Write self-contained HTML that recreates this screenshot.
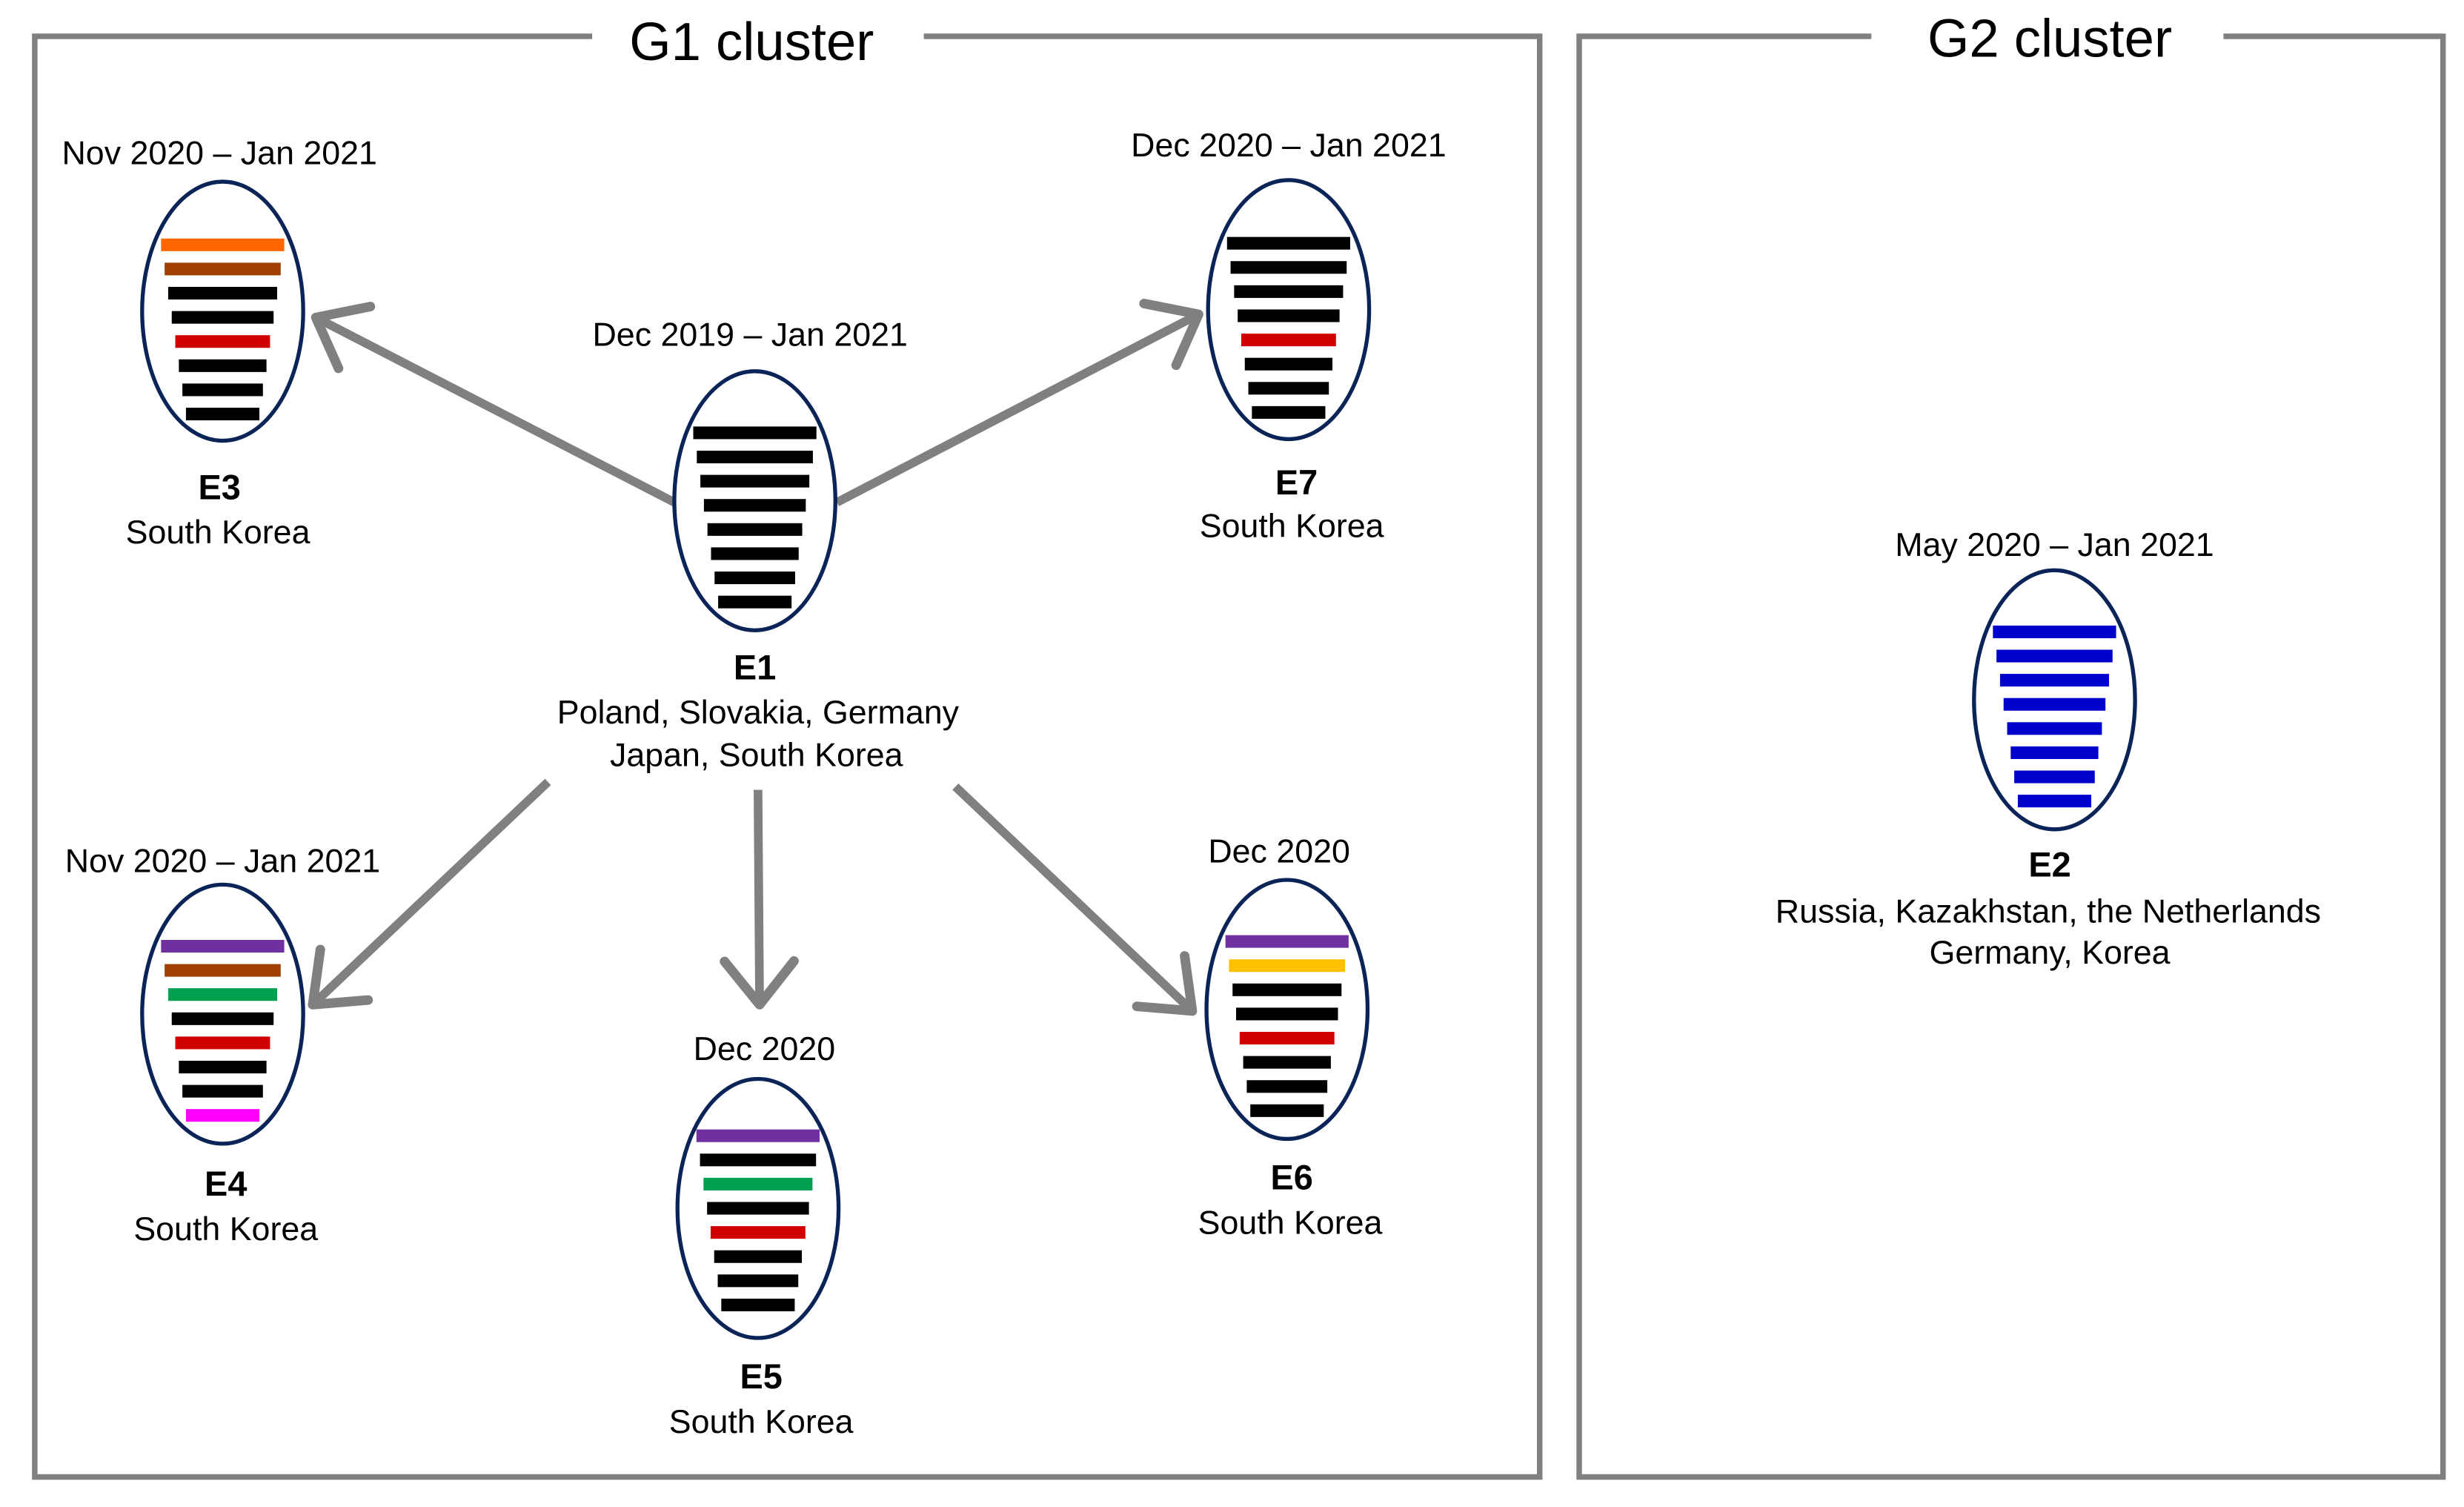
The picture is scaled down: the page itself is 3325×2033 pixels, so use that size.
<!DOCTYPE html>
<html><head><meta charset="utf-8"><style>
html,body{margin:0;padding:0;background:#fff;}
svg{display:block;}
text{font-family:"Liberation Sans",Arial,sans-serif;fill:#000;}
.d{font-size:21px;text-anchor:middle;}
.n{font-size:22px;font-weight:bold;text-anchor:middle;}
.c{font-size:21px;text-anchor:middle;}
.t{font-size:34px;text-anchor:middle;}
</style></head><body>
<svg id="s" width="3325" height="2033" viewBox="0 0 1560.3 954" preserveAspectRatio="none" xmlns="http://www.w3.org/2000/svg">
<defs>
<marker id="ah" markerWidth="8" markerHeight="10" refX="6" refY="5" orient="auto" markerUnits="strokeWidth">
<polyline points="1,1 6,5 1,9" fill="none" stroke="#808080" stroke-width="1.1" stroke-linecap="round" stroke-linejoin="round"/>
</marker>
</defs>
<g fill="none" stroke="#808080" stroke-width="3.5">
<polyline points="375,23 22,23 22,935 975,935 975,23 585,23"/>
<polyline points="1185,23 1000,23 1000,935 1547,935 1547,23 1408,23"/>
</g>
<text class="t" x="476" y="38">G1 cluster</text>
<text class="t" x="1298" y="36">G2 cluster</text>
<g stroke="#808080" stroke-width="5.5" fill="none" marker-end="url(#ah)">
<line x1="427" y1="318" x2="200" y2="201"/>
<line x1="530" y1="318" x2="759" y2="199"/>
<line x1="347" y1="495" x2="198" y2="636"/>
<line x1="480" y1="500" x2="481" y2="636"/>
<line x1="605" y1="498" x2="755" y2="640"/>
</g>
<g id="nodes"></g>
<text class="d" x="139" y="104">Nov 2020 – Jan 2021</text>
<text class="n" x="139" y="316">E3</text>
<text class="c" x="138" y="344">South Korea</text>
<text class="d" x="475" y="219">Dec 2019 – Jan 2021</text>
<text class="n" x="478" y="430">E1</text>
<text class="c" x="480" y="458">Poland, Slovakia, Germany</text>
<text class="c" x="479" y="485">Japan, South Korea</text>
<text class="d" x="816" y="99">Dec 2020 – Jan 2021</text>
<text class="n" x="821" y="313">E7</text>
<text class="c" x="818" y="340">South Korea</text>
<text class="d" x="141" y="552">Nov 2020 – Jan 2021</text>
<text class="n" x="143" y="757">E4</text>
<text class="c" x="143" y="785">South Korea</text>
<text class="d" x="484" y="671">Dec 2020</text>
<text class="n" x="482" y="879">E5</text>
<text class="c" x="482" y="907">South Korea</text>
<text class="d" x="810" y="546">Dec 2020</text>
<text class="n" x="818" y="753">E6</text>
<text class="c" x="817" y="781">South Korea</text>
<text class="d" x="1301" y="352">May 2020 – Jan 2021</text>
<text class="n" x="1298" y="555">E2</text>
<text class="c" x="1297" y="584">Russia, Kazakhstan, the Netherlands</text>
<text class="c" x="1298" y="610">Germany, Korea</text>
</svg>
<script>
var K='#000',R='#d00000',O='#ff6600',B='#a04000',P='#7030a0',G='#00a050',M='#ff00ff',Y='#ffc000',U='#0000cc';
var N=[
 [141,197,155,[O,B,K,K,R,K,K,K]],
 [478,317,274,[K,K,K,K,K,K,K,K]],
 [816,196,154,[K,K,K,K,R,K,K,K]],
 [141,642,599,[P,B,G,K,R,K,K,M]],
 [480,765,719,[P,K,G,K,R,K,K,K]],
 [815,639,596,[P,Y,K,K,R,K,K,K]],
 [1301,443,400,[U,U,U,U,U,U,U,U]]
];
var g=document.getElementById('nodes'),ns='http://www.w3.org/2000/svg',h='';
N.forEach(function(n){
 h+='<ellipse cx="'+n[0]+'" cy="'+n[1]+'" rx="51" ry="82" fill="#fff" stroke="#0a2458" stroke-width="2.5"/>';
 for(var i=0;i<8;i++){var w=78-i*4.5,y=n[2]+i*15.3;
  h+='<rect x="'+(n[0]-w/2)+'" y="'+(y-4)+'" width="'+w+'" height="8" fill="'+n[3][i]+'"/>';}
});
g.innerHTML=h;
</script>
</body></html>
